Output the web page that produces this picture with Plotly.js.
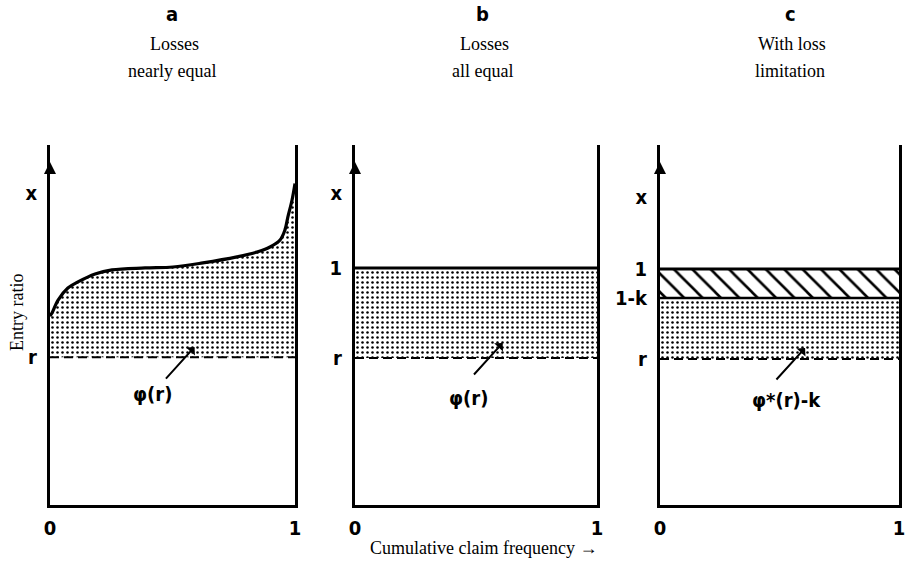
<!DOCTYPE html>
<html><head><meta charset="utf-8">
<script src="https://cdn.plot.ly/plotly-3.0.1.min.js"></script>
<style>html,body{margin:0;padding:0;background:#fff}#chart{width:906px;height:562px}</style>
</head><body><div id="chart"></div>
<script>
// ---------------- data ----------------
const panelLetters = ['a', 'b', 'c'];
const panelTitles1 = ['Losses', 'Losses', 'With loss'];
const panelTitles2 = ['nearly equal', 'all equal', 'limitation'];
const xEnds = [0, 1];
const xTickText = ['0', '1'];

// panel a: entry ratio curve, losses nearly equal
const curveAx = [0, 0.008, 0.033, 0.073, 0.114, 0.184, 0.253, 0.388, 0.502, 0.624, 0.763, 0.845, 0.898, 0.939, 0.959, 0.971, 0.988, 1.0];
const curveAy = [0.80, 0.813, 0.867, 0.917, 0.942, 0.975, 0.992, 1.0, 1.004, 1.021, 1.046, 1.066, 1.087, 1.116, 1.158, 1.212, 1.282, 1.35];
const rA = 0.63;
// panel b: losses all equal
const rB = 0.627;
const oneB = 1.0;
// panel c: with loss limitation
const rC = 0.622;
const oneC = 0.996;
const oneMinusKC = 0.875;

// y-axis label level ("x") per panel and the axis arrow tip
const xLabelLevel = [1.31, 1.31, 1.295];
const arrowTip = 1.44;
const yMin = 0.017;
const yMax = 1.51;

const yTickValsA = [xLabelLevel[0], rA];
const yTickTextA = ['x', 'r'];
const yTickValsB = [xLabelLevel[1], oneB, rB];
const yTickTextB = ['x', '1', 'r'];
const yTickValsC = [xLabelLevel[2], oneC, oneMinusKC, rC];
const yTickTextC = ['x', '1', '1-k', 'r'];

const phiLabels = ['φ(r)', 'φ(r)', 'φ*(r)-k'];
// pointer arrow tips (data coords in each panel)
const phiTipX = [0.59, 0.61, 0.607];
const phiTipY = [0.672, 0.689, 0.668];

// ---------------- layout helpers ----------------
const W = 906, H = 562;
const px = v => v / W;
const py = v => 1 - v / H;
const boldFont = {family: 'Liberation Sans Narrow, DejaVu Sans Condensed, Arial Narrow, sans-serif', size: 20, color: '#000', weight: 700};
const serifFont = {family: 'Liberation Serif, Times New Roman, serif', size: 18, color: '#000'};

const dots = {shape: '.', fgcolor: '#000', bgcolor: '#fff', size: 5, solidity: 0.2};
const hatch = {shape: '\\', fgcolor: '#000', bgcolor: '#fff', size: 13, solidity: 0.2};
const dashLine = {color: '#000', width: 2, dash: '9px,5px'};
const solid = w => ({color: '#000', width: w});

function arrowMarker(ax, ay) {
  return {x: [0], y: [arrowTip], xaxis: ax, yaxis: ay, mode: 'markers', cliponaxis: false,
    marker: {symbol: 'arrow-up', size: 12, color: '#000'}, hoverinfo: 'skip', showlegend: false};
}

const traces = [
  // panel a
  {x: xEnds, y: [rA, rA], xaxis: 'x', yaxis: 'y', mode: 'lines', line: dashLine, showlegend: false},
  {x: curveAx, y: curveAy, xaxis: 'x', yaxis: 'y', mode: 'lines', line: {color: '#000', width: 3.2, shape: 'spline'},
    fill: 'tonexty', fillcolor: '#fff', fillpattern: dots, showlegend: false},
  arrowMarker('x', 'y'),
  // panel b
  {x: xEnds, y: [rB, rB], xaxis: 'x2', yaxis: 'y2', mode: 'lines', line: dashLine, showlegend: false},
  {x: xEnds, y: [oneB, oneB], xaxis: 'x2', yaxis: 'y2', mode: 'lines', line: solid(3),
    fill: 'tonexty', fillcolor: '#fff', fillpattern: dots, showlegend: false},
  arrowMarker('x2', 'y2'),
  // panel c
  {x: xEnds, y: [rC, rC], xaxis: 'x3', yaxis: 'y3', mode: 'lines', line: dashLine, showlegend: false},
  {x: xEnds, y: [oneMinusKC, oneMinusKC], xaxis: 'x3', yaxis: 'y3', mode: 'lines', line: solid(2.5),
    fill: 'tonexty', fillcolor: '#fff', fillpattern: dots, showlegend: false},
  {x: xEnds, y: [oneC, oneC], xaxis: 'x3', yaxis: 'y3', mode: 'lines', line: solid(3),
    fill: 'tonexty', fillcolor: '#fff', fillpattern: hatch, showlegend: false},
  arrowMarker('x3', 'y3')
];

const panelPx = [[50, 295], [355, 597], [660, 899]];
const yDomain = [py(505), py(145)];

function xAxis(i) {
  return {domain: [px(panelPx[i][0]), px(panelPx[i][1])], range: [0, 1], anchor: i ? 'y' + (i + 1) : 'y',
    showgrid: false, zeroline: false, showline: true, linecolor: '#000', linewidth: 3,
    tickvals: xEnds, ticktext: xTickText, ticks: '', tickfont: boldFont, ticklabelstandoff: 3,
    ticklabeloverflow: 'allow', fixedrange: true};
}
function yAxis(i, vals, text) {
  return {domain: yDomain, range: [yMin, yMax], anchor: i ? 'x' + (i + 1) : 'x',
    showgrid: false, zeroline: false, showline: true, mirror: true, linecolor: '#000', linewidth: 3,
    tickvals: vals, ticktext: text, ticks: '', tickfont: boldFont, ticklabelstandoff: 6,
    ticklabeloverflow: 'allow', fixedrange: true};
}

function label(x, y, text, font, extra) {
  return Object.assign({xref: 'paper', yref: 'paper', x: px(x), y: py(y), text: text, showarrow: false,
    xanchor: 'center', yanchor: 'middle', font: font}, extra || {});
}

const titleX = [172, 483, 790];
const annotations = [];
for (let i = 0; i < 3; i++) {
  annotations.push(label(titleX[i], 14, panelLetters[i], boldFont));
  annotations.push(label(titleX[i] + 2, 44, panelTitles1[i], serifFont));
  annotations.push(label(titleX[i], 71, panelTitles2[i], serifFont));
  const xa = i ? 'x' + (i + 1) : 'x', ya = i ? 'y' + (i + 1) : 'y';
  annotations.push({xref: xa, yref: ya, x: phiTipX[i], y: phiTipY[i], ax: -30, ay: 33, text: '', showarrow: true,
    arrowhead: 1, arrowsize: 1, arrowwidth: 2, arrowcolor: '#000'});
}
const phiPos = [[152, 394], [468, 398], [786, 400]];
for (let i = 0; i < 3; i++) annotations.push(label(phiPos[i][0], phiPos[i][1], phiLabels[i], boldFont));
annotations.push(label(17, 313, 'Entry ratio', serifFont, {textangle: -90}));
annotations.push(label(484, 548, 'Cumulative claim frequency →', {...serifFont, size: 18}));

const layout = {
  width: W, height: H, margin: {l: 0, r: 0, t: 0, b: 0},
  paper_bgcolor: '#fff', plot_bgcolor: '#fff', showlegend: false,
  xaxis: xAxis(0), xaxis2: xAxis(1), xaxis3: xAxis(2),
  yaxis: yAxis(0, yTickValsA, yTickTextA), yaxis2: yAxis(1, yTickValsB, yTickTextB), yaxis3: yAxis(2, yTickValsC, yTickTextC),
  annotations: annotations
};

Plotly.newPlot('chart', traces, layout, {staticPlot: true, displayModeBar: false});
</script>
</body></html>
